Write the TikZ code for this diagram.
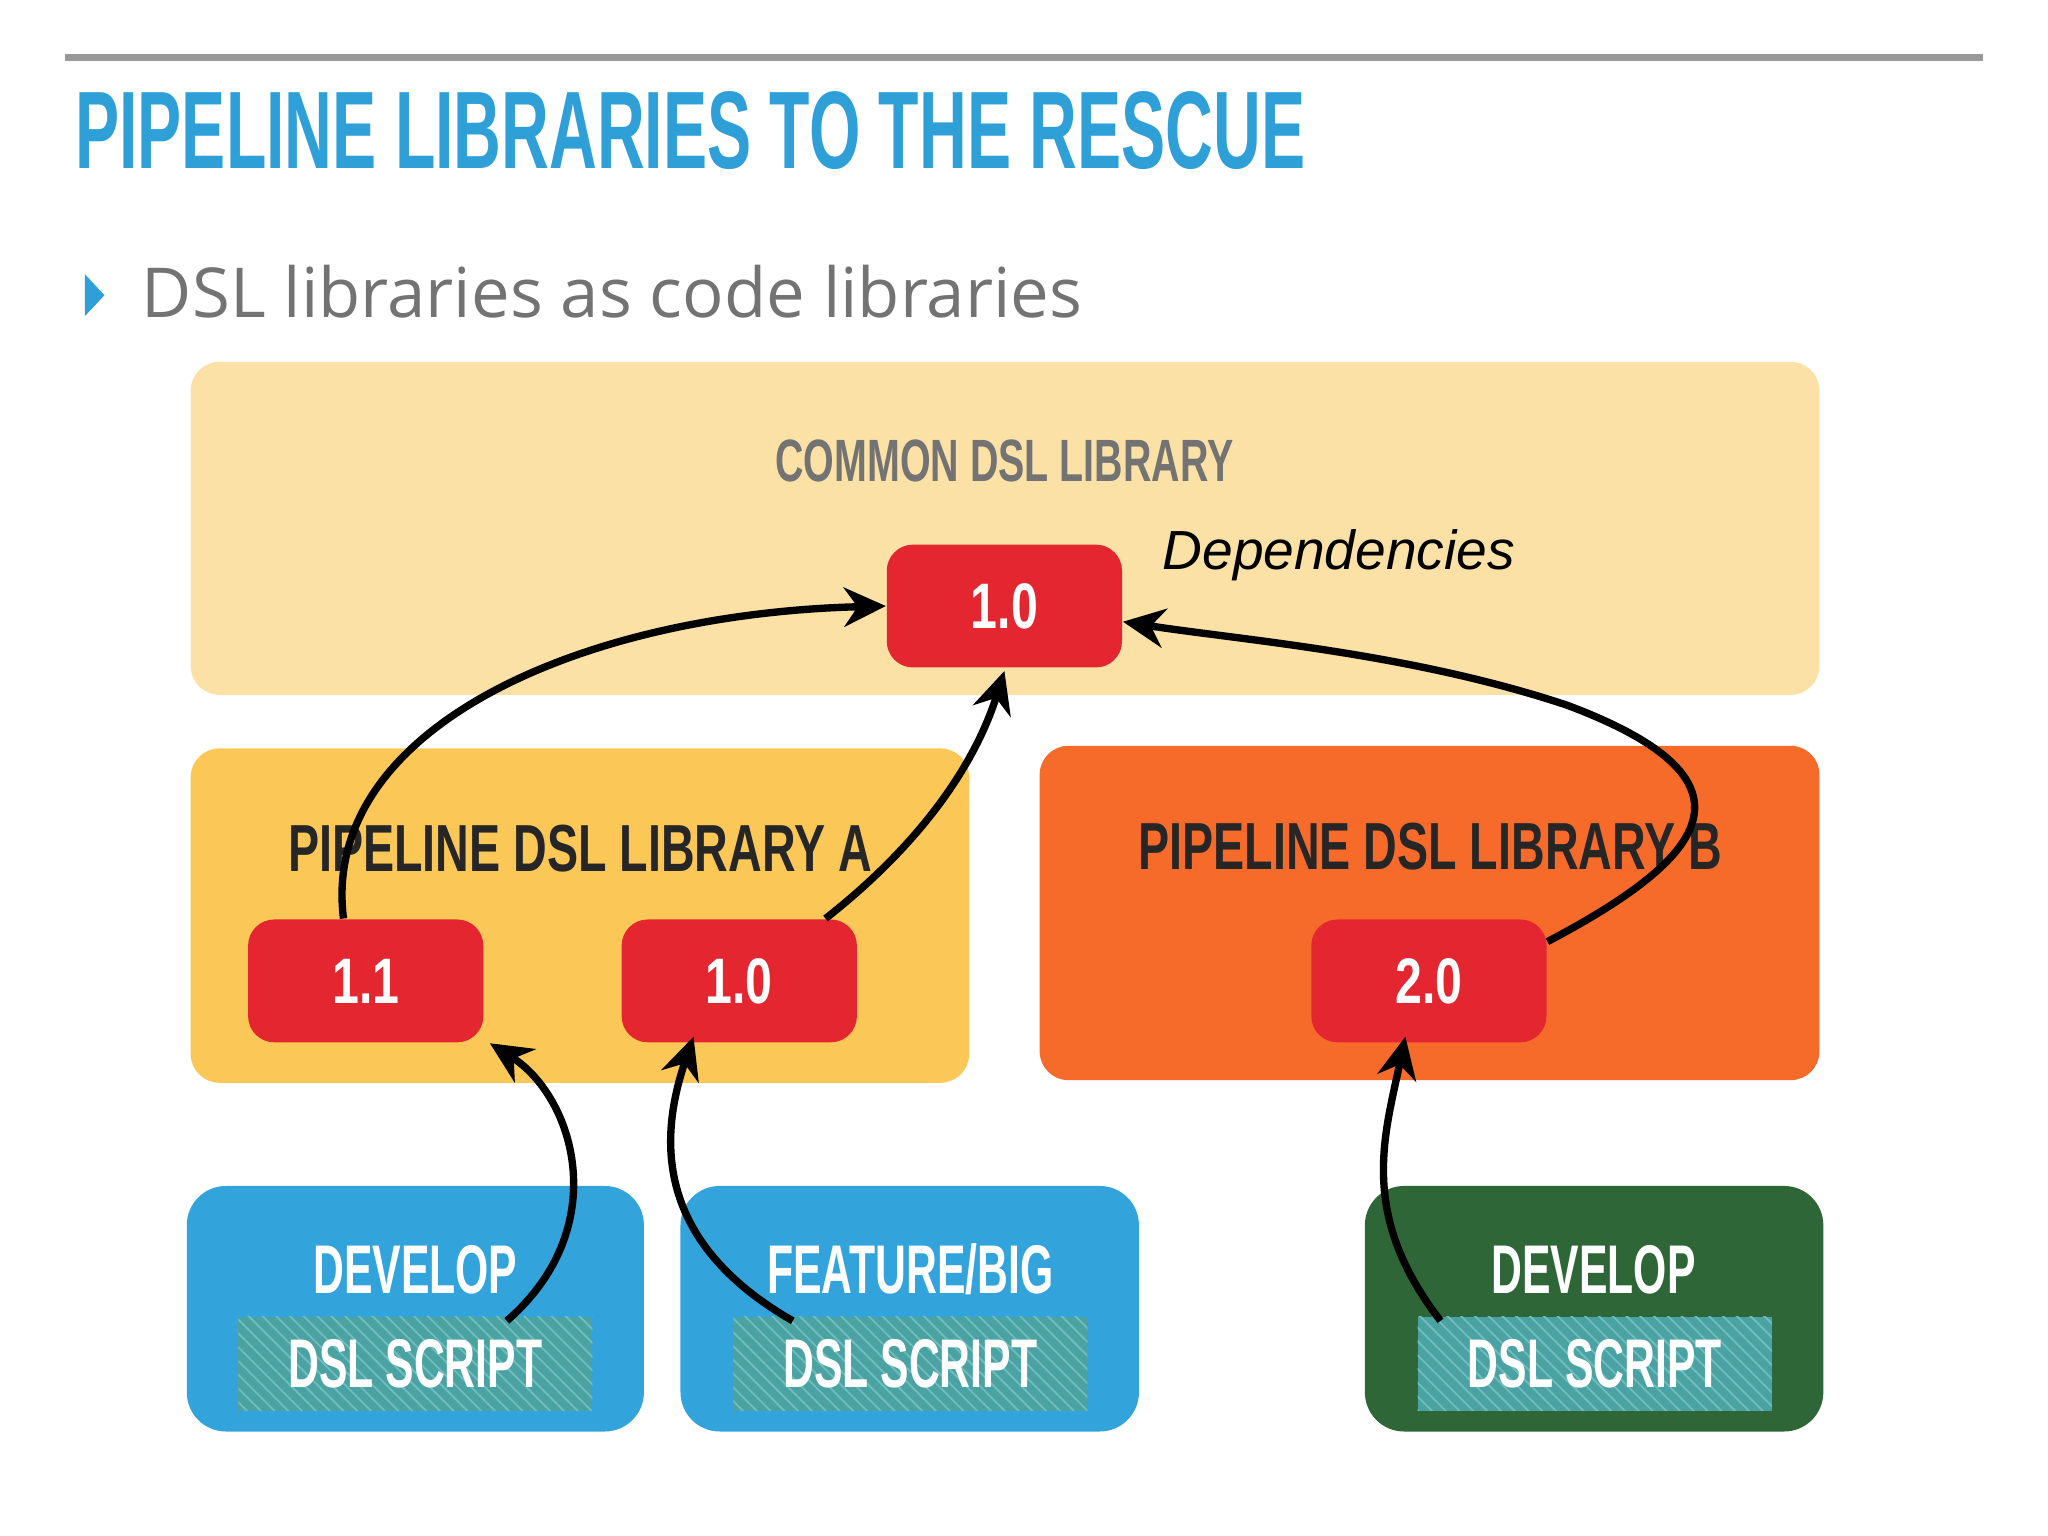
\documentclass[tikz,border=0pt]{standalone}
\usepackage{fontspec}
\setmainfont{Liberation Sans}
\newfontfamily\plainsans{Open Sans}
\newcommand{\cnd}[2][0.66]{\scalebox{#1}[1]{#2}}
\usetikzlibrary{arrows.meta,patterns}
\definecolor{ttl}{HTML}{2F9FD8}
\definecolor{common}{HTML}{FCE1A6}
\definecolor{liba}{HTML}{FBC757}
\definecolor{libb}{HTML}{F76B2A}
\definecolor{redv}{HTML}{E3262F}
\definecolor{blu}{HTML}{33A3DC}
\definecolor{grn}{HTML}{2F6637}
\definecolor{hatch}{HTML}{4AA2A3}
\definecolor{hatchl}{HTML}{6FBDBD}
\tikzset{
  area/.style={rounded corners=0.22cm, inner sep=0pt},
  ver/.style={fill=redv, rounded corners=0.2cm, minimum width=1.8cm, minimum height=0.94cm, text=white, font=\bfseries\fontsize{14}{14}\selectfont},
  lbl/.style={font=\bfseries\fontsize{14.5}{14.5}\selectfont, text=black!85},
  wlbl/.style={font=\bfseries\fontsize{15}{15}\selectfont, text=white},
  script/.style={fill=hatch, postaction={pattern=north west lines, pattern color=hatchl}, minimum width=2.71cm, minimum height=0.72cm, inner sep=0pt, text=white, font=\bfseries\fontsize{15}{15}\selectfont},
  dep/.style={-{Stealth[length=0.32cm,width=0.3cm]}, line width=1.6pt, black}
}
\begin{document}
\begin{tikzpicture}[x=0.01cm,y=-0.01cm]
\useasboundingbox (0,0) rectangle (1568,1176);
\fill[white] (0,0) rectangle (1568,1176);
\draw[gray!80, line width=1.5pt] (50,44) -- (1518,44);
\node[anchor=west, text=ttl, font=\bfseries\fontsize{24}{24}\selectfont, inner sep=0pt] (title) at (57,100) {\cnd[0.6]{PIPELINE LIBRARIES TO THE RESCUE}};
\fill[ttl] (65,210) -- (80,226) -- (65,242) -- cycle;
\node[anchor=west, text=gray!90!black, font=\plainsans\fontsize{15}{15}\selectfont, inner sep=0pt] (sub) at (108,223) {DSL libraries as code libraries};
% areas
\fill[common, area] (146,277) rectangle (1393,532);
\node[font=\bfseries\fontsize{13}{13}\selectfont, text=gray!90!black] (ct) at (769,353) {\cnd{COMMON DSL LIBRARY}};
\fill[liba, area] (146,573) rectangle (742,829);
\fill[libb, area] (796,571) rectangle (1393,827);
\node[lbl] (la) at (444,650) {\cnd[0.7]{PIPELINE DSL LIBRARY A}};
\node[lbl] (lb) at (1095,648) {\cnd[0.7]{PIPELINE DSL LIBRARY B}};
\node[ver] (c10) at (769,464) {\cnd[0.75]{1.0}};
\node[ver] (a11) at (280,751) {\cnd[0.75]{1.1}};
\node[ver] (a10) at (566,751) {\cnd[0.75]{1.0}};
\node[ver] (b20) at (1094,751) {\cnd[0.75]{2.0}};
\node[font=\itshape\fontsize{12}{12}\selectfont] (deps) at (1025,425) {Dependencies};
% bottom
\fill[blu, rounded corners=0.3cm] (143,908) rectangle (493,1096);
\fill[blu, rounded corners=0.3cm] (521,908) rectangle (872,1096);
\fill[grn, rounded corners=0.3cm] (1045,908) rectangle (1396,1096);
\node[wlbl] (d1) at (318,972) {\cnd[0.62]{DEVELOP}};
\node[wlbl] (d2) at (697,972) {\cnd[0.62]{FEATURE/BIG}};
\node[wlbl] (d3) at (1220,972) {\cnd[0.62]{DEVELOP}};
\node[script] (s1) at (318,1044) {\cnd[0.62]{DSL SCRIPT}};
\node[script] (s2) at (697,1044) {\cnd[0.62]{DSL SCRIPT}};
\node[script] (s3) at (1221,1044) {\cnd[0.62]{DSL SCRIPT}};
% arrows
\draw[dep] ([xshift=-0.17cm]a11.north) .. controls (245,560) and (440,470) .. (c10.west);
\draw[dep] ([xshift=0.66cm]a10.north) .. controls (700,650) and (745,590) .. ([yshift=-0.02cm]c10.south);
\draw[dep] ([yshift=0.3cm]b20.east) .. controls (1300,660) and (1360,600) .. (1200,540) .. controls (1080,500) and (950,490) .. ([yshift=-0.12cm]c10.east);
\draw[dep] ([xshift=0.7cm,yshift=-0.04cm]s1.north) .. controls (470,940) and (440,840) .. ([xshift=0.95cm]a11.south);
\draw[dep] ([xshift=-0.9cm,yshift=-0.04cm]s2.north) .. controls (500,950) and (505,870) .. ([xshift=-0.35cm,yshift=0.05cm]a10.south);
\draw[dep] ([xshift=-1.18cm,yshift=-0.04cm]s3.north) .. controls (1040,930) and (1060,870) .. ([xshift=-0.18cm,yshift=0.05cm]b20.south);
\end{tikzpicture}
\end{document}
